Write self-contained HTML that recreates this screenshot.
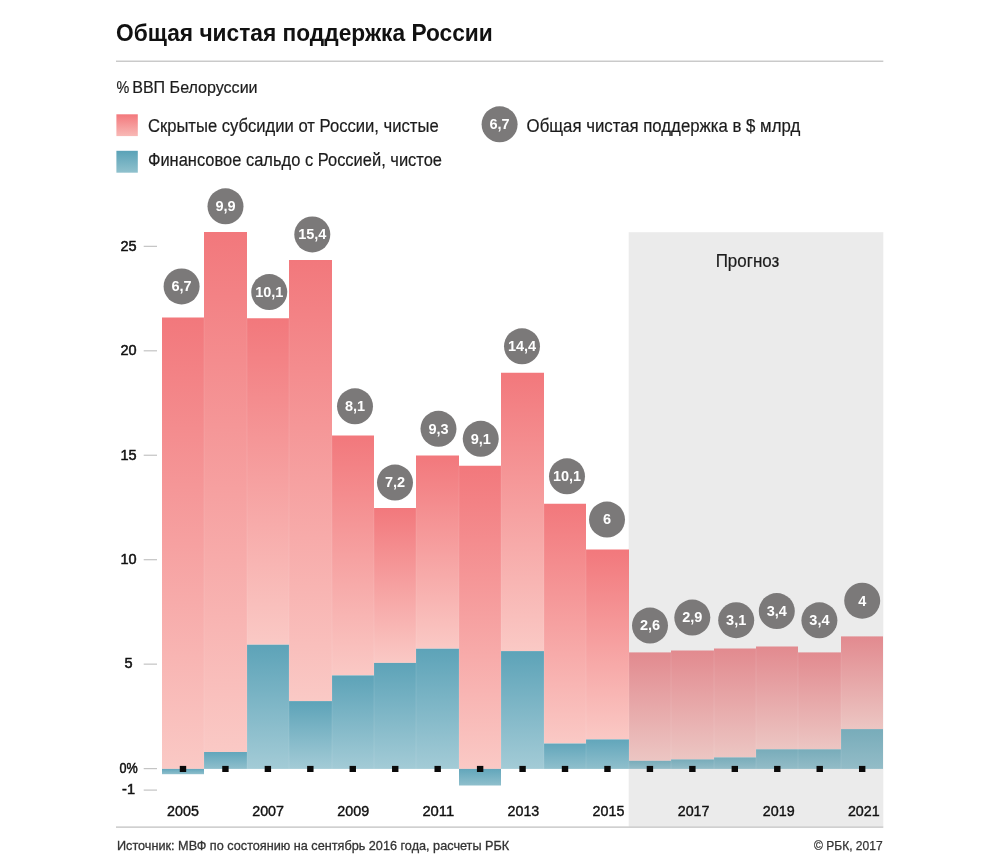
<!DOCTYPE html>
<html lang="ru"><head><meta charset="utf-8"><title>Общая чистая поддержка России</title>
<style>
html,body{margin:0;padding:0;background:#fff;}
body{width:1000px;height:866px;overflow:hidden;}
svg{display:block;font-family:"Liberation Sans",sans-serif;}
</style></head><body>
<svg width="1000" height="866" viewBox="0 0 1000 866">
<defs>
<linearGradient id="gp" x1="0" y1="0" x2="0" y2="1"><stop offset="0" stop-color="#f2787c"/><stop offset="1" stop-color="#fac9c5"/></linearGradient>
<linearGradient id="gb" x1="0" y1="0" x2="0" y2="1"><stop offset="0" stop-color="#5da3b8"/><stop offset="1" stop-color="#a3cbd6"/></linearGradient>
<linearGradient id="gpf" x1="0" y1="0" x2="0" y2="1"><stop offset="0" stop-color="#e28a8f"/><stop offset="1" stop-color="#ecc6c3"/></linearGradient>
<linearGradient id="gbf" x1="0" y1="0" x2="0" y2="1"><stop offset="0" stop-color="#74a8b7"/><stop offset="1" stop-color="#a8c8d0"/></linearGradient>
<linearGradient id="gpl" x1="0" y1="0" x2="0" y2="1"><stop offset="0" stop-color="#f3787c"/><stop offset="1" stop-color="#f8b9b6"/></linearGradient>
<linearGradient id="gbl" x1="0" y1="0" x2="0" y2="1"><stop offset="0" stop-color="#5aa2b7"/><stop offset="1" stop-color="#90c1cd"/></linearGradient>
<linearGradient id="gbs" x1="0" y1="0" x2="0" y2="1"><stop offset="0" stop-color="#62a6bb"/><stop offset="1" stop-color="#8fbfcc"/></linearGradient>
<linearGradient id="gbfs" x1="0" y1="0" x2="0" y2="1"><stop offset="0" stop-color="#78acba"/><stop offset="1" stop-color="#93bcc7"/></linearGradient>
</defs>
<rect width="1000" height="866" fill="#fff"/>

<text x="116" y="41.2" font-size="23" font-weight="700" fill="#111" textLength="376.8" lengthAdjust="spacingAndGlyphs">Общая чистая поддержка России</text>
<rect x="116" y="60.6" width="767.3" height="1.2" fill="#bdbdbd"/>
<text y="92.8" font-size="16.6" fill="#1c1c1c" stroke="#1c1c1c" stroke-width="0.2"><tspan x="116.5" textLength="12.8" lengthAdjust="spacingAndGlyphs">%</tspan> <tspan x="132.2" textLength="125.4" lengthAdjust="spacingAndGlyphs">ВВП Белоруссии</tspan></text>
<rect x="116.4" y="114.3" width="21.4" height="21.8" fill="url(#gpl)"/>
<rect x="116.4" y="150.8" width="21.4" height="21.9" fill="url(#gbl)"/>
<text x="147.9" y="132.1" font-size="17.6" fill="#1c1c1c" stroke="#1c1c1c" stroke-width="0.2" textLength="290.8" lengthAdjust="spacingAndGlyphs">Скрытые субсидии от России, чистые</text>
<text x="147.9" y="166.4" font-size="17.6" fill="#1c1c1c" stroke="#1c1c1c" stroke-width="0.2" textLength="294.1" lengthAdjust="spacingAndGlyphs">Финансовое сальдо с Россией, чистое</text>
<circle cx="499.6" cy="124.3" r="18" fill="#7b7979"/>
<text x="499.6" y="129.3" font-size="14.5" font-weight="700" fill="#fff" text-anchor="middle">6,7</text>
<text x="526.6" y="132.1" font-size="17.6" fill="#1c1c1c" stroke="#1c1c1c" stroke-width="0.2" textLength="273.6" lengthAdjust="spacingAndGlyphs">Общая чистая поддержка в $ млрд</text>
<rect x="628.70" y="232.2" width="254.60" height="594.40" fill="#ebebeb"/>
<text x="747.5" y="267.4" font-size="17.6" fill="#1c1c1c" stroke="#1c1c1c" stroke-width="0.2" text-anchor="middle" textLength="63.7" lengthAdjust="spacingAndGlyphs">Прогноз</text>
<rect x="143.7" y="245.75" width="13.3" height="1.2" fill="#c4c4c4"/>
<text x="128.5" y="250.65" font-size="14.5" fill="#111" stroke="#111" stroke-width="0.5" text-anchor="middle">25</text>
<rect x="143.7" y="350.20" width="13.3" height="1.2" fill="#c4c4c4"/>
<text x="128.5" y="355.10" font-size="14.5" fill="#111" stroke="#111" stroke-width="0.5" text-anchor="middle">20</text>
<rect x="143.7" y="454.65" width="13.3" height="1.2" fill="#c4c4c4"/>
<text x="128.5" y="459.55" font-size="14.5" fill="#111" stroke="#111" stroke-width="0.5" text-anchor="middle">15</text>
<rect x="143.7" y="559.10" width="13.3" height="1.2" fill="#c4c4c4"/>
<text x="128.5" y="564.00" font-size="14.5" fill="#111" stroke="#111" stroke-width="0.5" text-anchor="middle">10</text>
<rect x="143.7" y="663.55" width="13.3" height="1.2" fill="#c4c4c4"/>
<text x="128.5" y="668.45" font-size="14.5" fill="#111" stroke="#111" stroke-width="0.5" text-anchor="middle">5</text>
<rect x="143.7" y="768.00" width="13.3" height="1.2" fill="#c4c4c4"/>
<text x="128.5" y="772.90" font-size="14.5" fill="#111" stroke="#111" stroke-width="0.5" text-anchor="middle" textLength="18.2" lengthAdjust="spacingAndGlyphs">0%</text>
<rect x="143.7" y="789.50" width="13.3" height="1.2" fill="#c4c4c4"/>
<text x="128.5" y="794.40" font-size="14.5" fill="#111" stroke="#111" stroke-width="0.5" text-anchor="middle">-1</text>
<rect x="162.00" y="317.50" width="42" height="451.40" fill="url(#gp)"/>
<rect x="162.00" y="768.90" width="42" height="5.30" fill="url(#gbs)"/>
<rect x="204.00" y="232.00" width="43" height="520.00" fill="url(#gp)"/>
<rect x="204.00" y="752.00" width="43" height="16.90" fill="url(#gbs)"/>
<rect x="247.00" y="318.25" width="42" height="326.45" fill="url(#gp)"/>
<rect x="247.00" y="644.70" width="42" height="124.20" fill="url(#gb)"/>
<rect x="289.00" y="260.00" width="43" height="441.10" fill="url(#gp)"/>
<rect x="289.00" y="701.10" width="43" height="67.80" fill="url(#gb)"/>
<rect x="332.00" y="435.50" width="42" height="239.90" fill="url(#gp)"/>
<rect x="332.00" y="675.40" width="42" height="93.50" fill="url(#gb)"/>
<rect x="374.00" y="508.00" width="42" height="154.90" fill="url(#gp)"/>
<rect x="374.00" y="662.90" width="42" height="106.00" fill="url(#gb)"/>
<rect x="416.00" y="455.50" width="43" height="193.20" fill="url(#gp)"/>
<rect x="416.00" y="648.70" width="43" height="120.20" fill="url(#gb)"/>
<rect x="459.00" y="465.75" width="42" height="303.15" fill="url(#gp)"/>
<rect x="459.00" y="768.90" width="42" height="16.60" fill="url(#gbs)"/>
<rect x="501.00" y="372.75" width="43" height="278.35" fill="url(#gp)"/>
<rect x="501.00" y="651.10" width="43" height="117.80" fill="url(#gb)"/>
<rect x="544.00" y="503.75" width="42" height="239.75" fill="url(#gp)"/>
<rect x="544.00" y="743.50" width="42" height="25.40" fill="url(#gbs)"/>
<rect x="586.00" y="549.50" width="43" height="189.90" fill="url(#gp)"/>
<rect x="586.00" y="739.40" width="43" height="29.50" fill="url(#gbs)"/>
<rect x="629.00" y="652.40" width="42" height="108.40" fill="url(#gpf)"/>
<rect x="629.00" y="760.80" width="42" height="8.10" fill="url(#gbfs)"/>
<rect x="671.00" y="650.50" width="43" height="108.90" fill="url(#gpf)"/>
<rect x="671.00" y="759.40" width="43" height="9.50" fill="url(#gbfs)"/>
<rect x="714.00" y="648.50" width="42" height="108.90" fill="url(#gpf)"/>
<rect x="714.00" y="757.40" width="42" height="11.50" fill="url(#gbfs)"/>
<rect x="756.00" y="646.50" width="42" height="102.80" fill="url(#gpf)"/>
<rect x="756.00" y="749.30" width="42" height="19.60" fill="url(#gbfs)"/>
<rect x="798.00" y="652.40" width="43" height="96.90" fill="url(#gpf)"/>
<rect x="798.00" y="749.30" width="43" height="19.60" fill="url(#gbfs)"/>
<rect x="841.00" y="636.40" width="42" height="92.70" fill="url(#gpf)"/>
<rect x="841.00" y="729.10" width="42" height="39.80" fill="url(#gbfs)"/>
<rect x="203.5" y="317.50" width="1" height="451.40" fill="#fff" opacity="0.1"/>
<rect x="246.5" y="318.25" width="1" height="450.65" fill="#fff" opacity="0.1"/>
<rect x="288.5" y="318.25" width="1" height="450.65" fill="#fff" opacity="0.1"/>
<rect x="331.5" y="435.50" width="1" height="333.40" fill="#fff" opacity="0.1"/>
<rect x="373.5" y="508.00" width="1" height="260.90" fill="#fff" opacity="0.1"/>
<rect x="415.5" y="508.00" width="1" height="260.90" fill="#fff" opacity="0.1"/>
<rect x="458.5" y="465.75" width="1" height="303.15" fill="#fff" opacity="0.1"/>
<rect x="500.5" y="465.75" width="1" height="303.15" fill="#fff" opacity="0.1"/>
<rect x="543.5" y="503.75" width="1" height="265.15" fill="#fff" opacity="0.1"/>
<rect x="585.5" y="549.50" width="1" height="219.40" fill="#fff" opacity="0.1"/>
<rect x="628.5" y="652.40" width="1" height="116.50" fill="#fff" opacity="0.1"/>
<rect x="670.5" y="652.40" width="1" height="116.50" fill="#fff" opacity="0.1"/>
<rect x="713.5" y="650.50" width="1" height="118.40" fill="#fff" opacity="0.1"/>
<rect x="755.5" y="648.50" width="1" height="120.40" fill="#fff" opacity="0.1"/>
<rect x="797.5" y="652.40" width="1" height="116.50" fill="#fff" opacity="0.1"/>
<rect x="840.5" y="652.40" width="1" height="116.50" fill="#fff" opacity="0.1"/>
<rect x="179.78" y="765.9" width="6.4" height="6.1" fill="#0a0a0a"/>
<rect x="222.23" y="765.9" width="6.4" height="6.1" fill="#0a0a0a"/>
<rect x="264.68" y="765.9" width="6.4" height="6.1" fill="#0a0a0a"/>
<rect x="307.13" y="765.9" width="6.4" height="6.1" fill="#0a0a0a"/>
<rect x="349.57" y="765.9" width="6.4" height="6.1" fill="#0a0a0a"/>
<rect x="392.03" y="765.9" width="6.4" height="6.1" fill="#0a0a0a"/>
<rect x="434.48" y="765.9" width="6.4" height="6.1" fill="#0a0a0a"/>
<rect x="476.93" y="765.9" width="6.4" height="6.1" fill="#0a0a0a"/>
<rect x="519.38" y="765.9" width="6.4" height="6.1" fill="#0a0a0a"/>
<rect x="561.83" y="765.9" width="6.4" height="6.1" fill="#0a0a0a"/>
<rect x="604.27" y="765.9" width="6.4" height="6.1" fill="#0a0a0a"/>
<rect x="646.72" y="765.9" width="6.4" height="6.1" fill="#0a0a0a"/>
<rect x="689.17" y="765.9" width="6.4" height="6.1" fill="#0a0a0a"/>
<rect x="731.62" y="765.9" width="6.4" height="6.1" fill="#0a0a0a"/>
<rect x="774.08" y="765.9" width="6.4" height="6.1" fill="#0a0a0a"/>
<rect x="816.52" y="765.9" width="6.4" height="6.1" fill="#0a0a0a"/>
<rect x="858.98" y="765.9" width="6.4" height="6.1" fill="#0a0a0a"/>
<text x="183.00" y="815.8" font-size="14.8" fill="#111" stroke="#111" stroke-width="0.4" text-anchor="middle" textLength="31.8" lengthAdjust="spacingAndGlyphs">2005</text>
<text x="268.10" y="815.8" font-size="14.8" fill="#111" stroke="#111" stroke-width="0.4" text-anchor="middle" textLength="31.8" lengthAdjust="spacingAndGlyphs">2007</text>
<text x="353.20" y="815.8" font-size="14.8" fill="#111" stroke="#111" stroke-width="0.4" text-anchor="middle" textLength="31.8" lengthAdjust="spacingAndGlyphs">2009</text>
<text x="438.30" y="815.8" font-size="14.8" fill="#111" stroke="#111" stroke-width="0.4" text-anchor="middle" textLength="31.8" lengthAdjust="spacingAndGlyphs">2011</text>
<text x="523.40" y="815.8" font-size="14.8" fill="#111" stroke="#111" stroke-width="0.4" text-anchor="middle" textLength="31.8" lengthAdjust="spacingAndGlyphs">2013</text>
<text x="608.50" y="815.8" font-size="14.8" fill="#111" stroke="#111" stroke-width="0.4" text-anchor="middle" textLength="31.8" lengthAdjust="spacingAndGlyphs">2015</text>
<text x="693.60" y="815.8" font-size="14.8" fill="#111" stroke="#111" stroke-width="0.4" text-anchor="middle" textLength="31.8" lengthAdjust="spacingAndGlyphs">2017</text>
<text x="778.70" y="815.8" font-size="14.8" fill="#111" stroke="#111" stroke-width="0.4" text-anchor="middle" textLength="31.8" lengthAdjust="spacingAndGlyphs">2019</text>
<text x="863.80" y="815.8" font-size="14.8" fill="#111" stroke="#111" stroke-width="0.4" text-anchor="middle" textLength="31.8" lengthAdjust="spacingAndGlyphs">2021</text>
<circle cx="181.6" cy="286.40" r="18.0" fill="#7b7979"/>
<text x="181.6" y="291.20" font-size="14.5" font-weight="700" fill="#fff" text-anchor="middle">6,7</text>
<circle cx="225.5" cy="206.35" r="18.0" fill="#7b7979"/>
<text x="225.5" y="211.15" font-size="14.5" font-weight="700" fill="#fff" text-anchor="middle">9,9</text>
<circle cx="269.25" cy="292.10" r="18.0" fill="#7b7979"/>
<text x="269.25" y="296.90" font-size="14.5" font-weight="700" fill="#fff" text-anchor="middle">10,1</text>
<circle cx="312.3" cy="234.40" r="18.0" fill="#7b7979"/>
<text x="312.3" y="239.20" font-size="14.5" font-weight="700" fill="#fff" text-anchor="middle">15,4</text>
<circle cx="355" cy="406.35" r="18.0" fill="#7b7979"/>
<text x="355" y="411.15" font-size="14.5" font-weight="700" fill="#fff" text-anchor="middle">8,1</text>
<circle cx="395" cy="482.60" r="18.0" fill="#7b7979"/>
<text x="395" y="487.40" font-size="14.5" font-weight="700" fill="#fff" text-anchor="middle">7,2</text>
<circle cx="438.5" cy="428.85" r="18.0" fill="#7b7979"/>
<text x="438.5" y="433.65" font-size="14.5" font-weight="700" fill="#fff" text-anchor="middle">9,3</text>
<circle cx="480.75" cy="438.85" r="18.0" fill="#7b7979"/>
<text x="480.75" y="443.65" font-size="14.5" font-weight="700" fill="#fff" text-anchor="middle">9,1</text>
<circle cx="522" cy="346.35" r="18.0" fill="#7b7979"/>
<text x="522" y="351.15" font-size="14.5" font-weight="700" fill="#fff" text-anchor="middle">14,4</text>
<circle cx="567" cy="476.35" r="18.0" fill="#7b7979"/>
<text x="567" y="481.15" font-size="14.5" font-weight="700" fill="#fff" text-anchor="middle">10,1</text>
<circle cx="607" cy="519.60" r="18.0" fill="#7b7979"/>
<text x="607" y="524.40" font-size="14.5" font-weight="700" fill="#fff" text-anchor="middle">6</text>
<circle cx="650" cy="625.60" r="18.0" fill="#7b7979"/>
<text x="650" y="630.40" font-size="14.5" font-weight="700" fill="#fff" text-anchor="middle">2,6</text>
<circle cx="692.3" cy="617.60" r="18.0" fill="#7b7979"/>
<text x="692.3" y="622.40" font-size="14.5" font-weight="700" fill="#fff" text-anchor="middle">2,9</text>
<circle cx="736.2" cy="620.20" r="18.0" fill="#7b7979"/>
<text x="736.2" y="625.00" font-size="14.5" font-weight="700" fill="#fff" text-anchor="middle">3,1</text>
<circle cx="776.8" cy="611.10" r="18.0" fill="#7b7979"/>
<text x="776.8" y="615.90" font-size="14.5" font-weight="700" fill="#fff" text-anchor="middle">3,4</text>
<circle cx="819.4" cy="620.30" r="18.0" fill="#7b7979"/>
<text x="819.4" y="625.10" font-size="14.5" font-weight="700" fill="#fff" text-anchor="middle">3,4</text>
<circle cx="862.2" cy="600.70" r="18.0" fill="#7b7979"/>
<text x="862.2" y="605.50" font-size="14.5" font-weight="700" fill="#fff" text-anchor="middle">4</text>
<rect x="116" y="826.5" width="767.3" height="1.2" fill="#bdbdbd"/>
<text x="117" y="850" font-size="13.4" fill="#333" stroke="#333" stroke-width="0.3" textLength="392.2" lengthAdjust="spacingAndGlyphs">Источник: МВФ по состоянию на сентябрь 2016 года, расчеты РБК</text>
<text x="882.6" y="849.7" font-size="13" fill="#333" stroke="#333" stroke-width="0.25" text-anchor="end" textLength="68.6" lengthAdjust="spacingAndGlyphs">© РБК, 2017</text>
</svg>
</body></html>
